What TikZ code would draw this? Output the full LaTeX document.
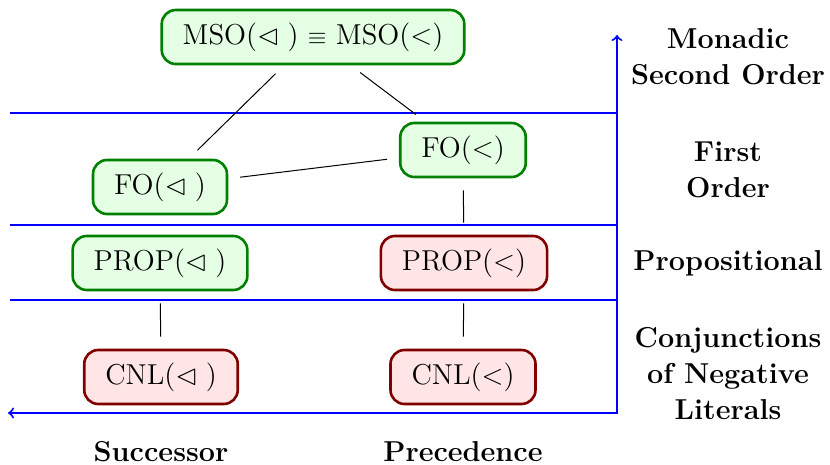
\documentclass[tikz,border=0pt]{standalone}
\usepackage{amssymb}
\begin{document}
\begin{tikzpicture}[x=0.5pt,y=-0.5pt,
  every node/.style={font=\Large},
  logic/.style={rounded corners=7pt,line width=1.3pt,minimum height=27pt,inner xsep=10.5pt,inner ysep=5pt},
  good/.style={logic,draw=green!50!black,fill=green!10},
  bad/.style={logic,draw=red!50!black,fill=red!10},
  sep/.style={draw=blue,line width=1pt},
  link/.style={draw=black,line width=0.5pt,shorten >=6pt,shorten <=6pt},
  lab/.style={font=\Large\bfseries,align=center}]
\useasboundingbox (0,0) rectangle (830,465);
% level separators
\coordinate (l1a) at (10,113); \coordinate (l1b) at (617,113);
\coordinate (l2a) at (10,225); \coordinate (l2b) at (617,225);
\coordinate (l3a) at (10,300); \coordinate (l3b) at (617,300);
\coordinate (axl) at (8,413); \coordinate (axt) at (617,35);
\draw[sep] (l1a) -- (l1b);
\draw[sep] (l2a) -- (l2b);
\draw[sep] (l3a) -- (l3b);
\draw[sep,<->] (axl) -| (axt);
% nodes
\node[good] (mso) at (313,37) {MSO($\lhd$\;) {\fontsize{12}{14}\selectfont$\equiv$} MSO($<$)};
\node[good] (fol) at (160,187) {FO($\lhd$\;)};
\node[good] (fog) at (463,150) {FO($<$)};
\node[good] (propl) at (160,263) {PROP($\lhd$\;)};
\node[bad] (propg) at (464,263) {PROP($<$)};
\node[bad] (cnll) at (161,377) {CNL($\lhd$\;)};
\node[bad] (cnlg) at (463,377) {CNL($<$)};
% links
\draw[link] (mso) -- (fol);
\draw[link] (mso) -- (fog);
\draw[link] (fol) -- (fog);
\draw[link] (fog) -- (propg);
\draw[link] (propl) -- (cnll);
\draw[link] (propg) -- (cnlg);
% labels
\node[lab] (t1) at (728,57) {Monadic\\Second Order};
\node[lab] (t2) at (728,170) {First\\Order};
\node[lab] (t3) at (728,263) {Propositional};
\node[lab] (t4) at (728,374) {Conjunctions\\of Negative\\Literals};
\node[lab] (s1) at (161,452) {Successor};
\node[lab] (s2) at (463,452) {Precedence};
\end{tikzpicture}
\end{document}
